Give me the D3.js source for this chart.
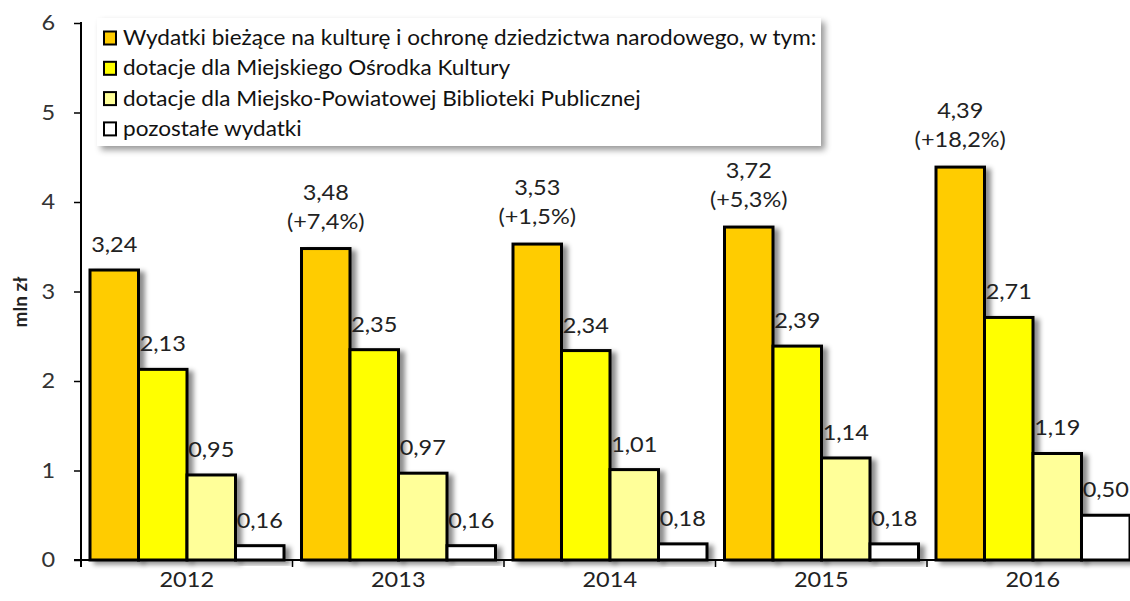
<!DOCTYPE html>
<html><head><meta charset="utf-8">
<script src="https://cdn.jsdelivr.net/npm/d3@7"></script>
<style>
body{margin:0;background:#fff;}
text{font-family:Lato,"Open Sans",sans-serif;}
</style></head>
<body><svg id="c" width="1130" height="601"></svg>
<script>
const years = ["2012","2013","2014","2015","2016"];
const seriesNames = [
  "Wydatki bieżące na kulturę i ochronę dziedzictwa narodowego, w tym:",
  "dotacje dla Miejskiego Ośrodka Kultury",
  "dotacje dla Miejsko-Powiatowej Biblioteki Publicznej",
  "pozostałe wydatki"
];
const totalExp = [3.24, 3.48, 3.53, 3.72, 4.39];
const mokDot   = [2.13, 2.35, 2.34, 2.39, 2.71];
const mpbpDot  = [0.95, 0.97, 1.01, 1.14, 1.19];
const otherExp = [0.16, 0.16, 0.18, 0.18, 0.50];
const growth   = [null, "+7,4%", "+1,5%", "+5,3%", "+18,2%"];
const yTicks   = [0,1,2,3,4,5,6];
const colors   = ["#FFCC00","#FFFF00","#FFFF99","#FFFFFF"];

const series = [totalExp, mokDot, mpbpDot, otherExp];
const fmt = v => d3.format(".2f")(v).replace(".", ",");
const SX = 1.12;

const svg = d3.select("#c");
const defs = svg.append("defs");
const f = defs.append("filter").attr("id","sh").attr("x","-20%").attr("y","-20%").attr("width","160%").attr("height","160%");
f.append("feDropShadow").attr("dx",5).attr("dy",3).attr("stdDeviation",2.5).attr("flood-color","#000").attr("flood-opacity",0.45);
const f2 = defs.append("filter").attr("id","sh2").attr("x","-5%").attr("y","-10%").attr("width","115%").attr("height","130%");
f2.append("feDropShadow").attr("dx",4).attr("dy",4).attr("stdDeviation",3).attr("flood-color","#000").attr("flood-opacity",0.4);

const y = d3.scaleLinear().domain([0,6]).range([560,23]);
const x = d3.scaleBand().domain(years).range([81,1138.5]).paddingInner(0).paddingOuter(0);
const x1 = d3.scaleBand().domain(d3.range(4)).range([9, 9+4*48.5]).padding(0);

function label(px, py, txt, anchor, size, fill, weight) {
  svg.append("text")
    .attr("transform", `translate(${px},${py}) scale(${SX},1)`)
    .attr("text-anchor", anchor).attr("font-size", size).attr("fill", fill)
    .attr("font-weight", weight || "normal").text(txt);
}

// bars
years.forEach((yr, i) => {
  const g = svg.append("g").attr("transform", `translate(${x(yr)},0)`);
  series.forEach((s, k) => {
    g.append("rect")
      .attr("x", x1(k)).attr("width", x1.bandwidth())
      .attr("y", y(s[i])).attr("height", y(0) - y(s[i]))
      .attr("fill", colors[k]).attr("stroke", "#000").attr("stroke-width", 3)
      .attr("filter", "url(#sh)");
  });
});

// labels
years.forEach((yr, i) => {
  series.forEach((s, k) => {
    const cx = x(yr) + x1(k) + x1.bandwidth()/2;
    const top = y(s[i]);
    if (k === 0 && growth[i]) {
      label(cx, top - 20, "(" + growth[i] + ")", "middle", 21, "#222");
      label(cx, top - 49, fmt(s[i]), "middle", 21, "#222");
    } else {
      label(cx, top - 18, fmt(s[i]), "middle", 21, "#222");
    }
  });
});

// y axis
const ya = svg.append("g").attr("transform","translate(81,0)")
  .call(d3.axisLeft(y).tickValues(yTicks).tickSize(7).tickSizeOuter(0).tickFormat(d => d));
ya.select(".domain").attr("stroke","#000").attr("stroke-width",2).attr("d","M0,22V567");
ya.selectAll(".tick line").attr("stroke","#000").attr("stroke-width",1.5);
ya.selectAll(".tick text").attr("font-size",21).attr("fill","#333").attr("x",-23)
  .attr("transform", `scale(${SX},1)`).attr("font-family","Lato");

// x axis
const xa = svg.append("g").attr("transform","translate(0,560)")
  .call(d3.axisBottom(x).tickSize(0).tickSizeOuter(0));
xa.select(".domain").attr("stroke","#000").attr("stroke-width",2).attr("d","M74,0H1130");
xa.selectAll(".tick text").attr("font-size",21).attr("fill","#222").attr("y",0).attr("dy","1.3em")
  .attr("transform", `scale(${SX},1)`).attr("font-family","Lato");
const bounds = years.map(d => x(d));
svg.append("g").selectAll("line").data(bounds).join("line")
  .attr("x1", d => d).attr("x2", d => d).attr("y1", 560).attr("y2", 567)
  .attr("stroke","#000").attr("stroke-width",1.5);

// y label
svg.append("text").attr("transform","translate(27,302) rotate(-90)")
  .attr("text-anchor","middle").attr("font-size",19).attr("font-weight","bold").attr("fill","#222").text("mln zł");

// legend
const lg = svg.append("g");
lg.append("rect").attr("x",97).attr("y",18).attr("width",724).attr("height",128)
  .attr("fill","#fff").attr("filter","url(#sh2)");
seriesNames.forEach((n, k) => {
  const cy = 38 + k*30.3;
  lg.append("rect").attr("x",104).attr("y",cy-6.5).attr("width",12).attr("height",13)
    .attr("fill",colors[k]).attr("stroke","#000").attr("stroke-width",2);
  lg.append("text").attr("transform",`translate(123,${cy+7}) scale(1.1,1)`)
    .attr("font-size",20.5).attr("fill","#111").text(n);
});
</script></body></html>
